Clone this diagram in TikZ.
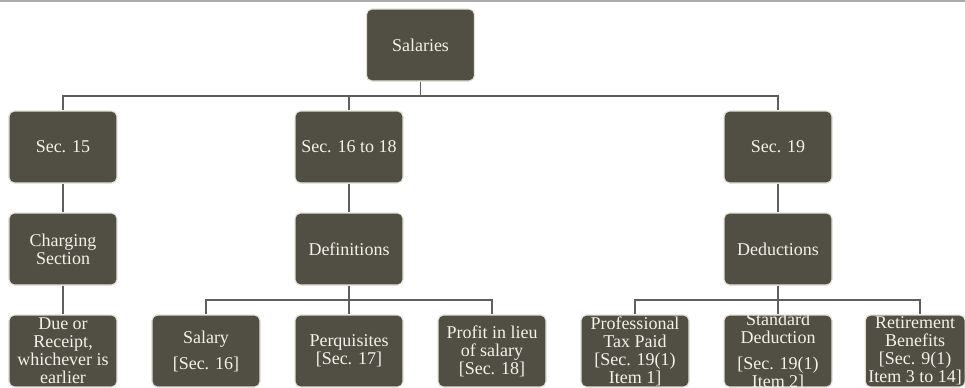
\documentclass[tikz,border=0pt]{standalone}
\usepackage{fontspec}
\setmainfont{Liberation Serif}
\usetikzlibrary{positioning,calc}
\definecolor{boxfill}{HTML}{514F43}
\definecolor{boxrim}{HTML}{E4E2D8}
\definecolor{boxtext}{HTML}{F3F1EA}
\definecolor{linkgray}{HTML}{5E5E5E}
\definecolor{topline}{HTML}{ABABAB}
\tikzset{
  sec/.style={draw=boxrim,line width=0.9pt,fill=boxfill,rounded corners=4pt,
            minimum width=81pt,minimum height=54pt,inner sep=0pt},
  lbl/.style={align=center,text=boxtext,inner sep=0pt,
            font=\fontsize{13.5}{13.5}\selectfont},
  link/.style={draw=linkgray,line width=1.1pt},
}

\begin{document}
\begin{tikzpicture}[node distance=21.6pt and 25.35pt]
  \useasboundingbox (-47.25pt,-27pt) rectangle ++(723.75pt,290.25pt);
  \coordinate (tl) at (-47.25pt,262.5pt);
  \draw[topline,line width=1.5pt] (tl) -- ++(723.75pt,0);

  % bottom row
  \node[sec,label={[lbl]center:{Due or\\Receipt,\\whichever is\\earlier}}] (due) at (0,0) {};
  \node[sec,right=of due,label={[lbl]center:{Salary\\[6pt][Sec. 16]}}] (salary) {};
  \node[sec,right=of salary,label={[lbl]center:{Perquisites\\[0pt][Sec. 17]}}] (perq) {};
  \node[sec,right=of perq,label={[lbl]center:{Profit in lieu\\of salary\\[0pt][Sec. 18]}}] (profit) {};
  \node[sec,right=of profit,label={[lbl]center:{Professional\\Tax Paid\\[0pt][Sec. 19(1)\\Item 1]}}] (prof) {};
  \node[sec,right=of prof,label={[lbl]center:{Standard\\Deduction\\[6pt][Sec. 19(1)\\Item 2]}}] (std) {};
  \node[sec,minimum width=75pt,right=24pt of std,
        label={[lbl]center:{Retirement\\Benefits\\[0pt][Sec. 9(1)\\Item 3 to 14]}}] (ret) {};
  % middle rows
  \node[sec,above=of due,label={[lbl]center:{Charging\\Section}}] (chg) {};
  \node[sec,above=of chg,label={[lbl]center:Sec. 15}] (s15) {};
  \node[sec,above=of perq,label={[lbl]center:Definitions}] (defs) {};
  \node[sec,above=of defs,label={[lbl]center:Sec. 16 to 18}] (s1618) {};
  \node[sec,above=of std,label={[lbl]center:Deductions}] (ded) {};
  \node[sec,above=of ded,label={[lbl]center:Sec. 19}] (s19) {};
  % top
  \coordinate (mid) at ($(s15.north)!0.5!(s19.north)$);
  \node[sec,above=of mid,label={[lbl]center:Salaries}] (sal) {};

  \foreach \kid in {s15,s1618,s19}
    \draw[link] (sal.south) -- ++(0,-10.8pt) -| (\kid.north);
  \draw[link] (s15) -- (chg);
  \draw[link] (chg) -- (due);
  \draw[link] (s1618) -- (defs);
  \draw[link] (s19) -- (ded);
  \foreach \kid in {salary,perq,profit}
    \draw[link] (defs.south) -- ++(0,-10.8pt) -| (\kid.north);
  \draw[link] (ded.south) -- ++(0,-10.8pt) -| (prof.north);
  \draw[link] (ded) -- (std);
  \draw[link] (ded.south) -- ++(0,-10.8pt) -| ([xshift=3.75pt]ret.north);
\end{tikzpicture}
\end{document}
